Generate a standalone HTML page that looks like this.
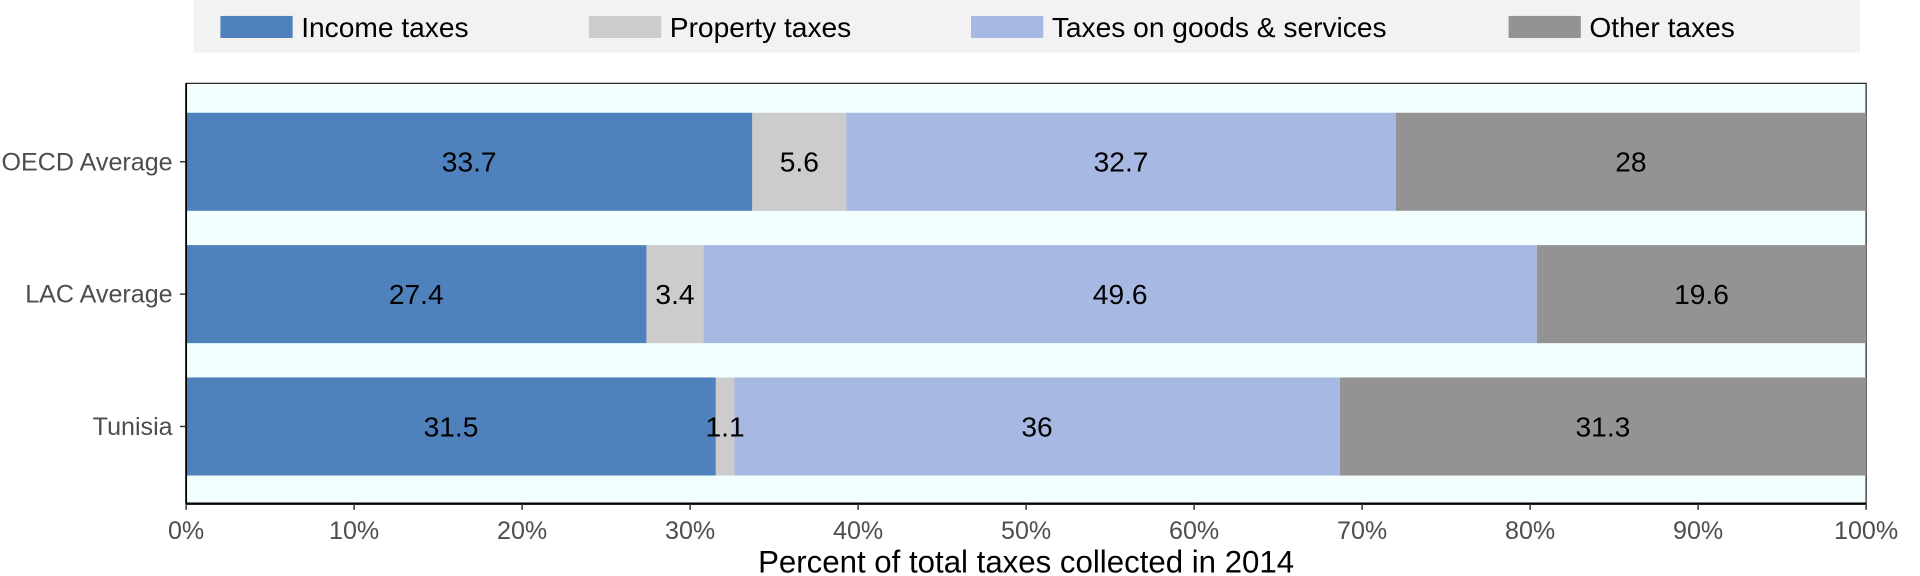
<!DOCTYPE html>
<html><head><meta charset="utf-8"><style>
html,body{margin:0;padding:0;background:#fff;width:1920px;height:576px;overflow:hidden}
svg{display:block;font-family:"Liberation Sans",sans-serif}
</style></head><body>
<svg id="chart" width="1920" height="576" viewBox="0 0 1568 470" preserveAspectRatio="none" xmlns="http://www.w3.org/2000/svg">
<rect x="158" y="0" width="1361" height="43" fill="#f2f2f2"/>
<g id="legend"></g>
<rect x="152" y="68" width="1372" height="343" fill="#f3ffff" stroke="#222" stroke-width="1"/>
<g id="bars"></g>
<g id="labels"></g>
<g id="axes"></g>
<text x="838" y="467" font-size="25.5" text-anchor="middle" fill="#000">Percent of total taxes collected in 2014</text>
</svg>
<script>
const categories = ["OECD Average", "LAC Average", "Tunisia"];
const seriesNames = ["Income taxes", "Property taxes", "Taxes on goods & services", "Other taxes"];
const income = [33.7, 27.4, 31.5];
const property = [5.6, 3.4, 1.1];
const goods = [32.7, 49.6, 36];
const other = [28, 19.6, 31.3];
const tickValues = [0,10,20,30,40,50,60,70,80,90,100];
const tickLabels = ["0%","10%","20%","30%","40%","50%","60%","70%","80%","90%","100%"];

const colors = ["#4f81bd", "#cccccc", "#a7b8e2", "#939393"];
const NS = "http://www.w3.org/2000/svg";
const X0 = 152, X1 = 1524, Y0 = 68, Y1 = 411;
const x = v => X0 + (X1 - X0) * v / 100;
const y = i => 132 + 108 * i;
const barH = 80;
function mk(tag, attrs, parent, txt) {
  const e = document.createElementNS(NS, tag);
  for (const k in attrs) e.setAttribute(k, attrs[k]);
  if (txt !== undefined) e.textContent = txt;
  parent.appendChild(e);
  return e;
}
const series = [income, property, goods, other];
const bars = document.getElementById("bars");
const labels = document.getElementById("labels");
categories.forEach((c, i) => {
  let total = 0;
  series.forEach(s => total += s[i]);
  let cum = 0;
  series.forEach((s, j) => {
    const v = s[i] * 100 / total;
    const r = mk("rect", {x: x(cum), y: y(i) - barH/2, width: x(cum + v) - x(cum), height: barH, fill: colors[j]}, bars);
    
    
    const t = mk("text", {x: (x(cum) + x(cum + v)) / 2, y: y(i) + 8, "font-size": 23, "text-anchor": "middle", fill: "#000"}, labels, String(s[i]));
    
    
    cum += v;
  });
});
const axes = document.getElementById("axes");
const la = mk("line", {x1: X0, y1: Y0, x2: X0, y2: Y1, stroke: "#000", "stroke-width": 1.5}, axes);


const ba = mk("line", {x1: X0, y1: Y1, x2: X1, y2: Y1, stroke: "#000", "stroke-width": 2}, axes);


categories.forEach((c, i) => {
  const tk = mk("line", {x1: X0 - 5, y1: y(i), x2: X0, y2: y(i), stroke: "#333", "stroke-width": 1.2}, axes);
  
  
  const t = mk("text", {x: X0 - 11, y: y(i) + 7, "font-size": 20.5, "text-anchor": "end", fill: "#4d4d4d"}, axes, c);
  
  
});
tickValues.forEach((v, i) => {
  const tk = mk("line", {x1: x(v), y1: Y1, x2: x(v), y2: Y1 + 5, stroke: "#333", "stroke-width": 1.2}, axes);
  
  
  const t = mk("text", {x: x(v), y: 440, "font-size": 20.5, "text-anchor": "middle", fill: "#4d4d4d"}, axes, tickLabels[i]);
  
  
});
const legend = document.getElementById("legend");
const legX = [180, 481, 793, 1232];
seriesNames.forEach((n, j) => {
  const r = mk("rect", {x: legX[j], y: 13, width: 59, height: 18, fill: colors[j]}, legend);
  
  
  const t = mk("text", {x: legX[j] + 66, y: 30, "font-size": 23, fill: "#000"}, legend, n);
  
  
});
</script>
</body></html>
